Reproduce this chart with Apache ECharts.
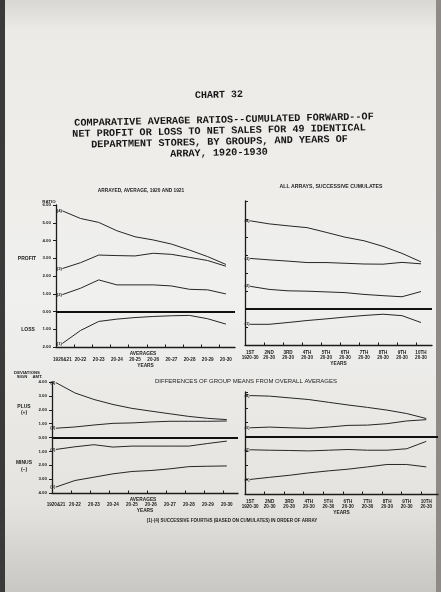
<!DOCTYPE html>
<html>
<head>
<meta charset="utf-8">
<script src="https://cdn.jsdelivr.net/npm/echarts@6/dist/echarts.min.js"></script>
<style>html,body{margin:0;padding:0;}#c{width:441px;height:592px;}</style>
</head>
<body>
<div id="c"></div>
<script>
// ---- data ----
const averageYears = ['1920&21','20-22','20-23','20-24','20-25','20-26','20-27','20-28','20-29','20-30'];
const cumulateLabels = ['1ST\n1920-30','2ND\n20-30','3RD\n20-30','4TH\n20-30','5TH\n20-30','6TH\n20-30','7TH\n20-30','8TH\n20-30','9TH\n20-30','10TH\n20-30'];
const groupNames = ['(1)','(2)','(3)','(4)'];

// Ratios, arrayed averages (profit +, loss -)
const ratioAvg1 = [-1.80, -1.07, -0.56, -0.43, -0.34, -0.28, -0.24, -0.22, -0.41, -0.71];
const ratioAvg2 = [0.95, 1.31, 1.78, 1.50, 1.50, 1.50, 1.44, 1.25, 1.22, 0.99];
const ratioAvg3 = [2.42, 2.75, 3.18, 3.15, 3.13, 3.28, 3.22, 3.05, 2.87, 2.55];
const ratioAvg4 = [5.67, 5.24, 5.02, 4.55, 4.21, 4.03, 3.80, 3.46, 3.09, 2.65];

// Ratios, successive cumulates
const ratioCum1 = [-0.85, -0.85, -0.75, -0.64, -0.55, -0.45, -0.36, -0.29, -0.37, -0.75];
const ratioCum2 = [1.26, 1.09, 1.01, 0.99, 0.95, 0.91, 0.81, 0.74, 0.68, 0.97];
const ratioCum3 = [2.81, 2.73, 2.66, 2.58, 2.58, 2.54, 2.50, 2.49, 2.59, 2.51];
const ratioCum4 = [4.90, 4.73, 4.62, 4.52, 4.26, 3.99, 3.79, 3.48, 3.09, 2.62];

// Deviations of group means from overall averages, arrayed averages
const devAvg1 = [-3.57, -3.10, -2.86, -2.62, -2.45, -2.38, -2.26, -2.10, -2.07, -2.05];
const devAvg2 = [-0.86, -0.67, -0.52, -0.69, -0.62, -0.62, -0.62, -0.62, -0.43, -0.26];
const devAvg3 = [0.67, 0.76, 0.90, 1.02, 1.05, 1.12, 1.17, 1.17, 1.17, 1.19];
const devAvg4 = [3.95, 3.21, 2.74, 2.38, 2.10, 1.90, 1.71, 1.52, 1.38, 1.29];

// Deviations, successive cumulates
const devCum1 = [-2.98, -2.83, -2.69, -2.52, -2.38, -2.26, -2.10, -1.93, -1.93, -2.10];
const devCum2 = [-0.90, -0.93, -0.95, -0.98, -0.93, -0.88, -0.93, -0.93, -0.83, -0.31];
const devCum3 = [0.64, 0.69, 0.64, 0.60, 0.69, 0.81, 0.83, 0.93, 1.12, 1.21];
const devCum4 = [2.90, 2.86, 2.74, 2.62, 2.43, 2.24, 2.07, 1.88, 1.64, 1.29];

// ---- styling ----
const INK = '#1c1c1c';
const SANS = 'Liberation Sans';
const MONO = 'Liberation Mono';
const idx = averageYears.map((_, i) => i);

const panels = [
  { grid: {left: 56, top: 205, width: 179, height: 142}, xMin: -0.35, xMax: 9.5, yMin: -2, yMax: 6, cats: averageYears, labelsY: true, labMargin: 10, nameGap: 15, tickInside: false, series: [ratioAvg1, ratioAvg2, ratioAvg3, ratioAvg4] },
  { grid: {left: 245, top: 201, width: 187, height: 144}, xMin: -0.27, xMax: 9.58, yMin: -2, yMax: 6, cats: cumulateLabels, labelsY: false, labMargin: 5, nameGap: 15, tickInside: true, series: [ratioCum1, ratioCum2, ratioCum3, ratioCum4] },
  { grid: {left: 52, top: 382, width: 186, height: 111}, xMin: -0.21, xMax: 9.59, yMin: -4, yMax: 4, cats: averageYears, labelsY: true, labMargin: 9, nameGap: 14, tickInside: false, series: [devAvg1, devAvg2, devAvg3, devAvg4] },
  { grid: {left: 245, top: 392, width: 193, height: 102}, xMin: -0.26, xMax: 9.6, yMin: -4, yMax: 3.15, cats: cumulateLabels, labelsY: false, labMargin: 5, nameGap: 15, tickInside: true, series: [devCum1, devCum2, devCum3, devCum4] }
];

const grids = [], xAxes = [], yAxes = [], series = [];
panels.forEach((p, gi) => {
  grids.push(Object.assign({containLabel: false}, p.grid));
  const xt = [];
  for (let k = 1; k <= 10; k++) { const v = p.xMin + k; if (v < p.xMax) xt.push(v); }
  xAxes.push({
    gridIndex: gi, type: 'value', min: p.xMin, max: p.xMax,
    axisLine: {onZero: false, lineStyle: {color: INK, width: 1.3}},
    axisTick: {show: true, inside: true, length: 2.5, customValues: xt, lineStyle: {color: INK, width: 1}},
    axisLabel: {customValues: idx, formatter: v => p.cats[Math.round(v)], fontSize: 4.6, fontFamily: SANS, fontWeight: 'bold', color: INK, margin: p.labMargin, lineHeight: 5},
    splitLine: {show: false},
    name: 'YEARS', nameLocation: 'middle', nameGap: p.nameGap,
    nameTextStyle: {fontSize: 4.8, fontFamily: SANS, fontWeight: 'bold', color: INK}
  });
  yAxes.push({
    gridIndex: gi, type: 'value', min: p.yMin, max: p.yMax, interval: 1,
    axisLine: {show: true, onZero: false, lineStyle: {color: INK, width: 1.3}},
    axisTick: {show: true, inside: p.tickInside, length: 3, lineStyle: {color: INK, width: 1}},
    axisLabel: {show: p.labelsY, formatter: v => Math.abs(v).toFixed(2), fontSize: 4.4, fontFamily: SANS, fontWeight: 'bold', color: INK, margin: 5},
    splitLine: {show: false}
  });
  p.series.forEach((vals, si) => {
    const s = {
      type: 'line', xAxisIndex: gi, yAxisIndex: gi, name: groupNames[si],
      data: vals.map((v, i) => [i, v]),
      symbol: 'circle', symbolSize: 0, showSymbol: true, smooth: false, silent: true,
      itemStyle: {color: '#262626'},
      lineStyle: {color: '#262626', width: 1},
      label: {show: true, position: 'left', distance: 0.5,
        formatter: pr => pr.dataIndex === 0 ? groupNames[si] : '',
        fontSize: 4.2, fontFamily: SANS, fontWeight: 'bold', color: INK}
    };
    if (si === 0) {
      s.markLine = {silent: true, symbol: 'none', label: {show: false},
        lineStyle: {color: '#111', width: 2, type: 'solid'}, data: [{yAxis: 0}]};
    }
    series.push(s);
  });
});

const small = (t, x, y, size, extra) => ({
  type: 'text', x: x, y: y, silent: true,
  style: Object.assign({text: t, fontSize: size, fontFamily: SANS, fontWeight: 'bold', fill: INK, textAlign: 'center', textVerticalAlign: 'middle'}, extra || {})
});

const tilt = 0.022;
const title = (t, x, y, size) => ({
  type: 'text', x: x, y: y, rotation: tilt, silent: true,
  style: {text: t, fontSize: size, fontFamily: MONO, fontWeight: 'bold', fill: '#161616', textAlign: 'center', textVerticalAlign: 'middle'}
});

const graphic = [
  {type: 'rect', shape: {x: 0, y: 0, width: 5, height: 592}, style: {fill: '#3a3a3a'}, silent: true},
  {type: 'rect', shape: {x: 436, y: 0, width: 5, height: 592}, style: {fill: '#8f8a85'}, silent: true},
  title('CHART 32', 219, 95, 10),
  title('COMPARATIVE AVERAGE RATIOS--CUMULATED FORWARD--OF', 224, 120, 10.2),
  title('NET PROFIT OR LOSS TO NET SALES FOR 49 IDENTICAL', 219, 131, 10.2),
  title('DEPARTMENT STORES, BY GROUPS, AND YEARS OF', 219.5, 142, 10.2),
  title('ARRAY, 1920-1930', 219, 153, 10.2),
  small('ARRAYED, AVERAGE, 1920 AND 1921', 141, 191, 4.8),
  small('ALL ARRAYS, SUCCESSIVE CUMULATES', 331, 187, 5.2),
  small('DIFFERENCES OF GROUP MEANS FROM OVERALL AVERAGES', 246, 381, 6, {fontWeight: 'normal'}),
  small('(1)-(4) SUCCESSIVE FOURTHS (BASED ON CUMULATES) IN ORDER OF ARRAY', 232, 521, 4.5),
  small('RATIO', 49, 201.5, 4.4),
  small('PROFIT', 27, 259, 5),
  small('LOSS', 28, 330, 5),
  small('AVERAGES', 143, 354, 4.8),
  small('AVERAGES', 143, 499.5, 4.8),
  small('DEVIATIONS', 27, 372.5, 4.3),
  small('SIGN', 22, 377, 4.3),
  small('AMT.', 37.5, 377, 4.3),
  small('PLUS', 24, 407, 5),
  small('(+)', 24, 413, 5),
  small('MINUS', 24, 463, 5),
  small('(\u2013)', 24, 469.5, 5)
];

const chart = echarts.init(document.getElementById('c'), null, {renderer: 'canvas'});
chart.setOption({
  animation: false,
  backgroundColor: {type: 'linear', x: 0, y: 0, x2: 0, y2: 1, colorStops: [
    {offset: 0, color: '#d9d7d3'}, {offset: 0.05, color: '#eceae7'}, {offset: 0.5, color: '#f0f0ee'},
    {offset: 0.85, color: '#e4e3e0'}, {offset: 1, color: '#c9c7c3'}]},
  grid: grids, xAxis: xAxes, yAxis: yAxes, series: series, graphic: graphic
});
</script>
</body>
</html>
